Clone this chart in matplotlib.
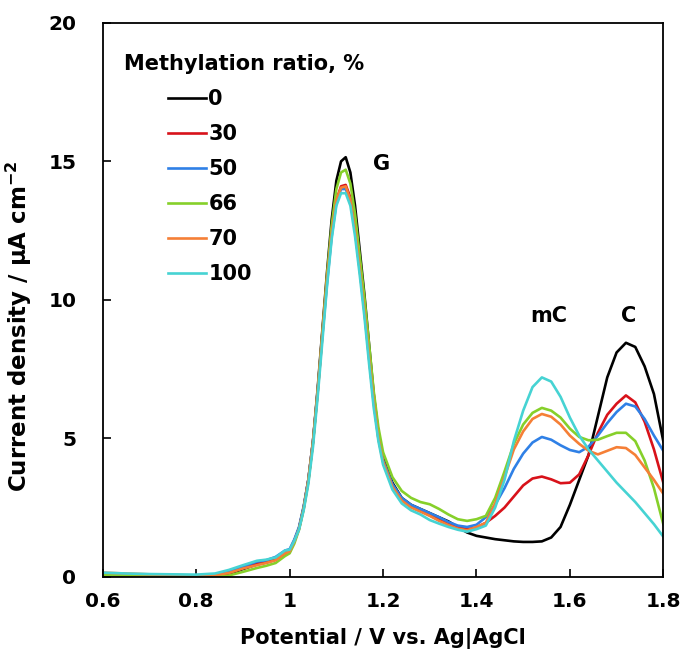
import matplotlib
matplotlib.use("Agg")
import matplotlib.pyplot as plt

plt.rcParams['font.family'] = ['DejaVu Sans']
plt.rcParams['mathtext.fontset'] = 'dejavusans'

potential = [0.60, 0.65, 0.70, 0.75, 0.80, 0.84, 0.87, 0.90, 0.93, 0.95, 0.97, 0.99,
             1.00, 1.01, 1.02, 1.03, 1.04, 1.05, 1.06, 1.07, 1.08, 1.09, 1.10,
             1.11, 1.12, 1.13, 1.14, 1.15, 1.16, 1.17, 1.18, 1.19, 1.20,
             1.22, 1.24, 1.26, 1.28, 1.30, 1.32, 1.34, 1.36, 1.38, 1.40,
             1.42, 1.44, 1.46, 1.48, 1.50, 1.52, 1.54, 1.56, 1.58, 1.60,
             1.62, 1.64, 1.66, 1.68, 1.70, 1.72, 1.74, 1.76, 1.78, 1.80]

ratio_0 = [0.06, 0.05, 0.04, 0.03, 0.02, 0.03, 0.10, 0.28, 0.45, 0.52, 0.62, 0.85,
           0.95, 1.3, 1.75, 2.5, 3.5, 4.9, 6.8, 8.9, 11.0, 12.9, 14.3,
           15.0, 15.15, 14.6, 13.4, 11.8, 10.2, 8.4, 6.6, 5.2, 4.3,
           3.4, 2.85, 2.6, 2.45, 2.3, 2.15, 2.0, 1.8, 1.6, 1.48,
           1.42, 1.36, 1.32, 1.28, 1.26, 1.26, 1.28, 1.42, 1.8, 2.6,
           3.5, 4.4, 5.8, 7.2, 8.1, 8.45, 8.3, 7.6, 6.6, 4.9]

ratio_30 = [0.10, 0.08, 0.06, 0.05, 0.04, 0.06, 0.15, 0.32, 0.48, 0.54, 0.64, 0.88,
            0.95, 1.3, 1.75, 2.5, 3.5, 4.9, 6.7, 8.8, 10.8, 12.5, 13.6,
            14.1, 14.15, 13.7, 12.6, 11.2, 9.7, 8.0, 6.4, 5.1, 4.2,
            3.3, 2.8, 2.55, 2.4, 2.22, 2.05, 1.9, 1.8, 1.72, 1.78,
            1.95, 2.2, 2.5, 2.9, 3.3, 3.55, 3.62, 3.52, 3.38, 3.4,
            3.7, 4.4, 5.2, 5.85, 6.25, 6.55, 6.3, 5.6, 4.6, 3.4]

ratio_50 = [0.10, 0.08, 0.07, 0.06, 0.05, 0.08, 0.20, 0.38, 0.55, 0.60, 0.72, 0.95,
            1.0, 1.35, 1.8, 2.55, 3.5, 4.9, 6.7, 8.7, 10.6, 12.3, 13.5,
            14.0, 14.0, 13.6, 12.5, 11.1, 9.6, 7.9, 6.3, 5.0, 4.2,
            3.35, 2.85, 2.6, 2.45, 2.3, 2.15, 1.98, 1.85, 1.8, 1.88,
            2.15, 2.6, 3.2, 3.9, 4.45, 4.85, 5.05, 4.95, 4.75, 4.58,
            4.5, 4.7, 5.1, 5.55, 5.95, 6.25, 6.15, 5.7, 5.1, 4.55]

ratio_66 = [0.08, 0.05, 0.03, 0.02, 0.0, 0.01, 0.05, 0.18, 0.32, 0.40, 0.50, 0.75,
            0.85, 1.2, 1.7, 2.45, 3.45, 4.85, 6.7, 8.8, 10.9, 12.7, 14.0,
            14.6, 14.7, 14.2, 13.1, 11.6, 10.1, 8.4, 6.7, 5.4, 4.5,
            3.6, 3.1, 2.85, 2.7, 2.62, 2.45, 2.25, 2.08, 2.02, 2.08,
            2.2, 2.85, 3.8, 4.8, 5.5, 5.92, 6.1, 6.0, 5.75, 5.35,
            5.05, 4.93, 4.95, 5.08, 5.2, 5.2, 4.9, 4.2, 3.2, 1.9]

ratio_70 = [0.15, 0.12, 0.09, 0.07, 0.05, 0.06, 0.14, 0.30, 0.42, 0.50, 0.60, 0.85,
            0.92, 1.28, 1.72, 2.45, 3.45, 4.85, 6.65, 8.7, 10.7, 12.4, 13.6,
            14.05, 14.1, 13.6, 12.5, 11.1, 9.6, 7.9, 6.3, 5.0, 4.15,
            3.25, 2.75, 2.5, 2.35, 2.2, 2.02, 1.87, 1.74, 1.68, 1.8,
            1.95, 2.65, 3.6, 4.6, 5.25, 5.7, 5.88, 5.78, 5.5, 5.1,
            4.8, 4.55, 4.42, 4.55, 4.68, 4.65, 4.4, 3.95, 3.5, 3.0]

ratio_100 = [0.15, 0.12, 0.10, 0.09, 0.08, 0.12, 0.25, 0.42, 0.58, 0.62, 0.70, 0.95,
             0.98, 1.3, 1.7, 2.4, 3.35, 4.7, 6.5, 8.5, 10.5, 12.2, 13.4,
             13.85, 13.85, 13.4, 12.3, 10.9, 9.4, 7.7, 6.1, 4.9, 4.05,
             3.15, 2.65, 2.4, 2.25, 2.05, 1.92, 1.8, 1.7, 1.63, 1.72,
             1.85, 2.5, 3.5, 4.9, 6.0, 6.85, 7.2, 7.05, 6.5, 5.75,
             5.1, 4.6, 4.2, 3.8, 3.4, 3.05, 2.7, 2.3, 1.9, 1.45]

labels = ['0', '30', '50', '66', '70', '100']
colors = ['#000000', '#d8121a', '#2f80e6', '#86d02a', '#f57f36', '#46d3d3']
series = [ratio_0, ratio_30, ratio_50, ratio_66, ratio_70, ratio_100]

x_ticks = [0.6, 0.8, 1.0, 1.2, 1.4, 1.6, 1.8]
x_ticklabels = ['0.6', '0.8', '1', '1.2', '1.4', '1.6', '1.8']
y_ticks = [0, 5, 10, 15, 20]

peak_labels = ['G', 'mC', 'C']
peak_pos = [(1.197, 14.9), (1.554, 9.4), (1.725, 9.4)]

fig = plt.figure(figsize=(6.81, 6.54), dpi=100)
ax = fig.add_axes([0.151, 0.118, 0.823, 0.847])

handles = []
for ys, c, lab in zip(series, colors, labels):
    h, = ax.plot(potential, ys, color=c, lw=1.9, label=lab, solid_joinstyle='round')
    handles.append(h)

ax.set_xlim(0.6, 1.8)
ax.set_ylim(0, 20)
ax.set_xticks(x_ticks)
ax.set_xticklabels(x_ticklabels)
ax.set_yticks(y_ticks)
ax.tick_params(direction='in', length=6, width=1.2, labelsize=14.5,
               top=False, right=False)
ax.tick_params(axis='y', pad=19)
ax.tick_params(axis='x', pad=11)
for lbl in ax.get_xticklabels() + ax.get_yticklabels():
    lbl.set_fontweight('bold')
for sp in ax.spines.values():
    sp.set_linewidth(1.3)

ax.set_xlabel('Potential / V vs. Ag|AgCl', fontsize=15, fontweight='bold', labelpad=12)
ax.set_ylabel(r'Current density / μA cm$^{\mathbf{-2}}$', fontsize=16.5, fontweight='bold')
ax.yaxis.set_label_coords(-0.122, 0.453)

for t, (px, py) in zip(peak_labels, peak_pos):
    ax.text(px, py, t, fontsize=15, fontweight='bold', ha='center', va='center')

ax.text(0.645, 18.5, 'Methylation ratio, %', fontsize=15, fontweight='bold',
        ha='left', va='center')
leg = ax.legend(handles=handles, loc='upper left', bbox_to_anchor=(0.101, 0.896),
                frameon=False, fontsize=15, handlelength=1.85, handletextpad=0.1,
                labelspacing=0.72, borderaxespad=0)
for t in leg.get_texts():
    t.set_fontweight('bold')

fig.savefig('out.png', dpi=100)
